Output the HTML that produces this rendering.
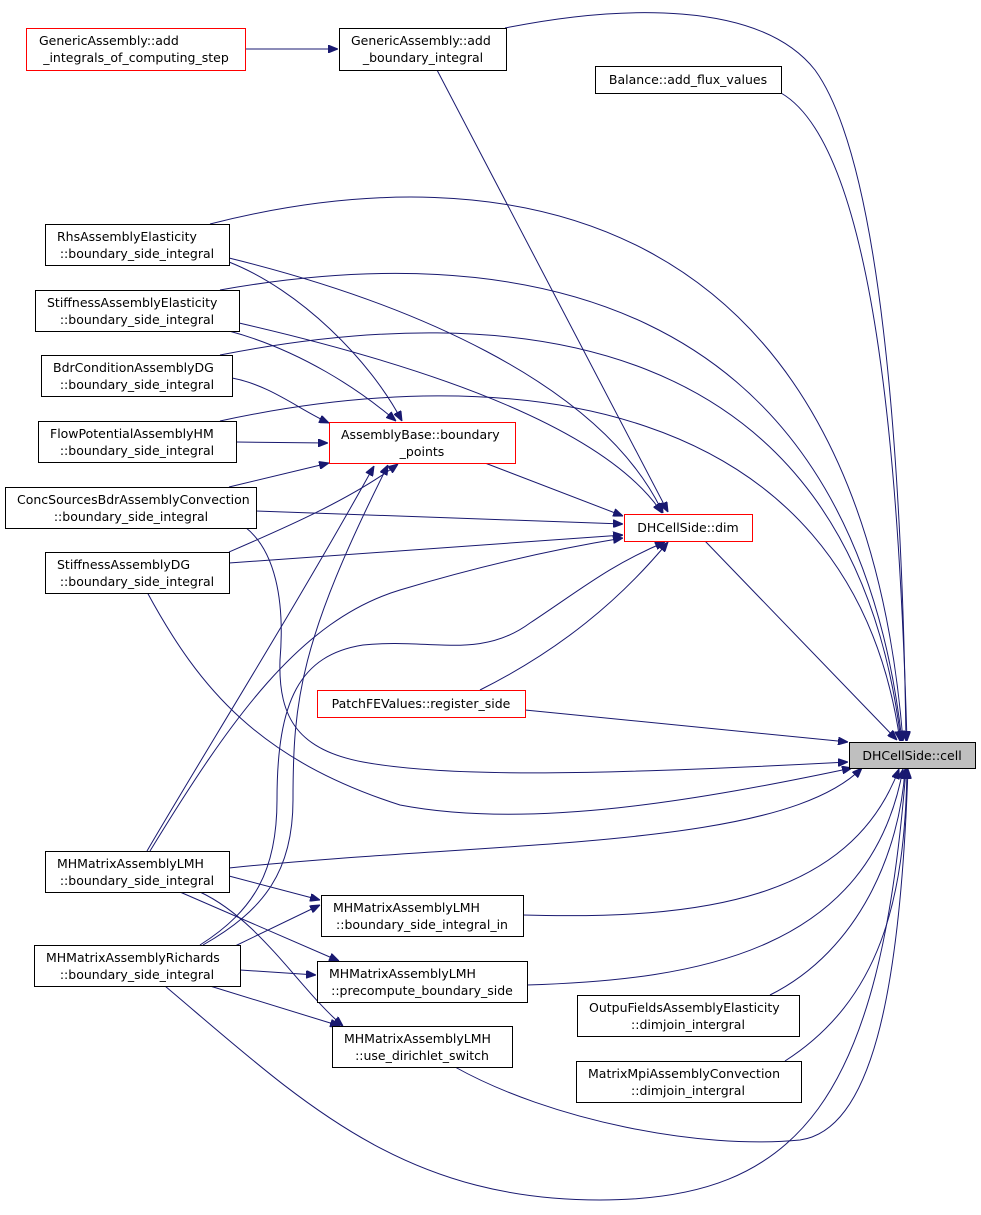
<!DOCTYPE html>
<html><head><meta charset="utf-8"><style>
html,body{margin:0;padding:0;background:#fff;}
svg text{font-family:"DejaVu Sans","Liberation Sans",sans-serif;font-size:12.5px;fill:#000;}
</style></head><body>
<svg width="981" height="1210" viewBox="0 0 981 1210" xmlns="http://www.w3.org/2000/svg">
<defs><marker id="a" markerWidth="10" markerHeight="8" refX="10" refY="4" orient="auto" markerUnits="userSpaceOnUse"><path d="M0,0 L10,4 L0,8 z" fill="#191970" stroke="#191970"/></marker></defs>
<g fill="none" stroke="#191970" stroke-width="1" marker-end="url(#a)">
<path d="M245,49 L338,49"/>
<path d="M505,28 C620,5 760,0 815,70 C880,160 902,450 906,741"/>
<path d="M437,70 L668,512"/>
<path d="M781,93 C880,150 900,500 907,741"/>
<path d="M210,224 C500,150 860,200 903,741"/>
<path d="M229,258 C400,300 600,380 663,513"/>
<path d="M229,262 C300,290 370,360 402,421"/>
<path d="M220,290 C500,240 850,280 902,741"/>
<path d="M239,323 C400,360 600,420 662,513"/>
<path d="M229,331 C300,350 360,390 396,421"/>
<path d="M220,355 C500,300 850,320 901,741"/>
<path d="M232,378 C270,385 300,410 329,423"/>
<path d="M220,421 C500,360 850,390 900,741"/>
<path d="M236,442 L328,443"/>
<path d="M229,487 L329,463"/>
<path d="M256,511 L623,524"/>
<path d="M245,527 C275,550 285,600 280,660 C278,720 300,750 363,762 C450,778 600,775 848,762"/>
<path d="M229,552 C280,530 350,500 398,464"/>
<path d="M229,563 L623,535"/>
<path d="M147,592 C200,690 260,760 400,805 C530,830 700,800 852,768"/>
<path d="M485,463 L623,516"/>
<path d="M480,690 C560,650 620,600 668,542"/>
<path d="M525,710 L848,742"/>
<path d="M705,541 L897,740"/>
<path d="M147,851 C200,760 300,600 374,466"/>
<path d="M150,851 C230,720 300,620 400,590 C500,560 580,545 623,538"/>
<path d="M203,945 C265,910 293,870 293,800 C293,700 300,640 388,465"/>
<path d="M200,945 C255,910 277,870 277,800 C277,700 300,655 363,645 C430,638 480,660 530,623 C580,590 610,565 665,542"/>
<path d="M229,868 C500,840 780,850 862,768"/>
<path d="M229,876 L320,900"/>
<path d="M180,892 L339,961"/>
<path d="M200,892 C260,920 300,990 343,1026"/>
<path d="M233,947 L320,905"/>
<path d="M240,970 L316,975"/>
<path d="M210,986 L340,1026"/>
<path d="M165,986 C300,1100 400,1200 600,1200 C800,1200 880,1100 906,769"/>
<path d="M523,915 C700,920 850,900 899,769"/>
<path d="M527,985 C700,980 870,950 903,769"/>
<path d="M455,1067 C550,1120 700,1150 800,1140 C870,1130 900,1000 908,769"/>
<path d="M770,995 C860,950 900,850 905,769"/>
<path d="M785,1061 C880,1000 905,900 907,769"/>
</g>
<g stroke-width="1" fill="#fff">
<rect x="26.5" y="28.5" width="219" height="42" stroke="red"/>
<rect x="339.5" y="28.5" width="167" height="42" stroke="#000"/>
<rect x="595.5" y="66.5" width="186" height="27" stroke="#000"/>
<rect x="45.5" y="224.5" width="184" height="41" stroke="#000"/>
<rect x="35.5" y="290.5" width="204" height="41" stroke="#000"/>
<rect x="41.5" y="355.5" width="191" height="41" stroke="#000"/>
<rect x="38.5" y="421.5" width="198" height="41" stroke="#000"/>
<rect x="329.5" y="422.5" width="186" height="41" stroke="red"/>
<rect x="5.5" y="487.5" width="251" height="41" stroke="#000"/>
<rect x="624.5" y="514.5" width="128" height="27" stroke="red"/>
<rect x="45.5" y="552.5" width="184" height="41" stroke="#000"/>
<rect x="317.5" y="690.5" width="208" height="27" stroke="red"/>
<rect x="849.5" y="742.5" width="126" height="26" stroke="#000" fill="#bfbfbf"/>
<rect x="45.5" y="851.5" width="184" height="41" stroke="#000"/>
<rect x="321.5" y="895.5" width="202" height="41" stroke="#000"/>
<rect x="34.5" y="945.5" width="206" height="41" stroke="#000"/>
<rect x="317.5" y="961.5" width="210" height="41" stroke="#000"/>
<rect x="577.5" y="995.5" width="222" height="41" stroke="#000"/>
<rect x="576.5" y="1061.5" width="225" height="41" stroke="#000"/>
<rect x="332.5" y="1026.5" width="180" height="41" stroke="#000"/>
</g>
<g>
<text x="39" y="45">GenericAssembly::add</text><text x="136" y="62" text-anchor="middle">_integrals_of_computing_step</text>
<text x="351" y="45">GenericAssembly::add</text><text x="423" y="62" text-anchor="middle">_boundary_integral</text>
<text x="688" y="84" text-anchor="middle">Balance::add_flux_values</text>
<text x="57" y="241">RhsAssemblyElasticity</text><text x="137" y="258" text-anchor="middle">::boundary_side_integral</text>
<text x="47" y="307">StiffnessAssemblyElasticity</text><text x="137" y="324" text-anchor="middle">::boundary_side_integral</text>
<text x="53" y="372">BdrConditionAssemblyDG</text><text x="137" y="389" text-anchor="middle">::boundary_side_integral</text>
<text x="50" y="438">FlowPotentialAssemblyHM</text><text x="137" y="455" text-anchor="middle">::boundary_side_integral</text>
<text x="341" y="439">AssemblyBase::boundary</text><text x="422" y="456" text-anchor="middle">_points</text>
<text x="17" y="504">ConcSourcesBdrAssemblyConvection</text><text x="131" y="521" text-anchor="middle">::boundary_side_integral</text>
<text x="688" y="532" text-anchor="middle">DHCellSide::dim</text>
<text x="57" y="569">StiffnessAssemblyDG</text><text x="137" y="586" text-anchor="middle">::boundary_side_integral</text>
<text x="421" y="708" text-anchor="middle">PatchFEValues::register_side</text>
<text x="912" y="760" text-anchor="middle">DHCellSide::cell</text>
<text x="57" y="868">MHMatrixAssemblyLMH</text><text x="137" y="885" text-anchor="middle">::boundary_side_integral</text>
<text x="333" y="912">MHMatrixAssemblyLMH</text><text x="422" y="929" text-anchor="middle">::boundary_side_integral_in</text>
<text x="46" y="962">MHMatrixAssemblyRichards</text><text x="137" y="979" text-anchor="middle">::boundary_side_integral</text>
<text x="329" y="978">MHMatrixAssemblyLMH</text><text x="422" y="995" text-anchor="middle">::precompute_boundary_side</text>
<text x="589" y="1012">OutpuFieldsAssemblyElasticity</text><text x="688" y="1029" text-anchor="middle">::dimjoin_intergral</text>
<text x="588" y="1078">MatrixMpiAssemblyConvection</text><text x="688" y="1095" text-anchor="middle">::dimjoin_intergral</text>
<text x="344" y="1043">MHMatrixAssemblyLMH</text><text x="422" y="1060" text-anchor="middle">::use_dirichlet_switch</text>
</g>
</svg>
</body></html>
